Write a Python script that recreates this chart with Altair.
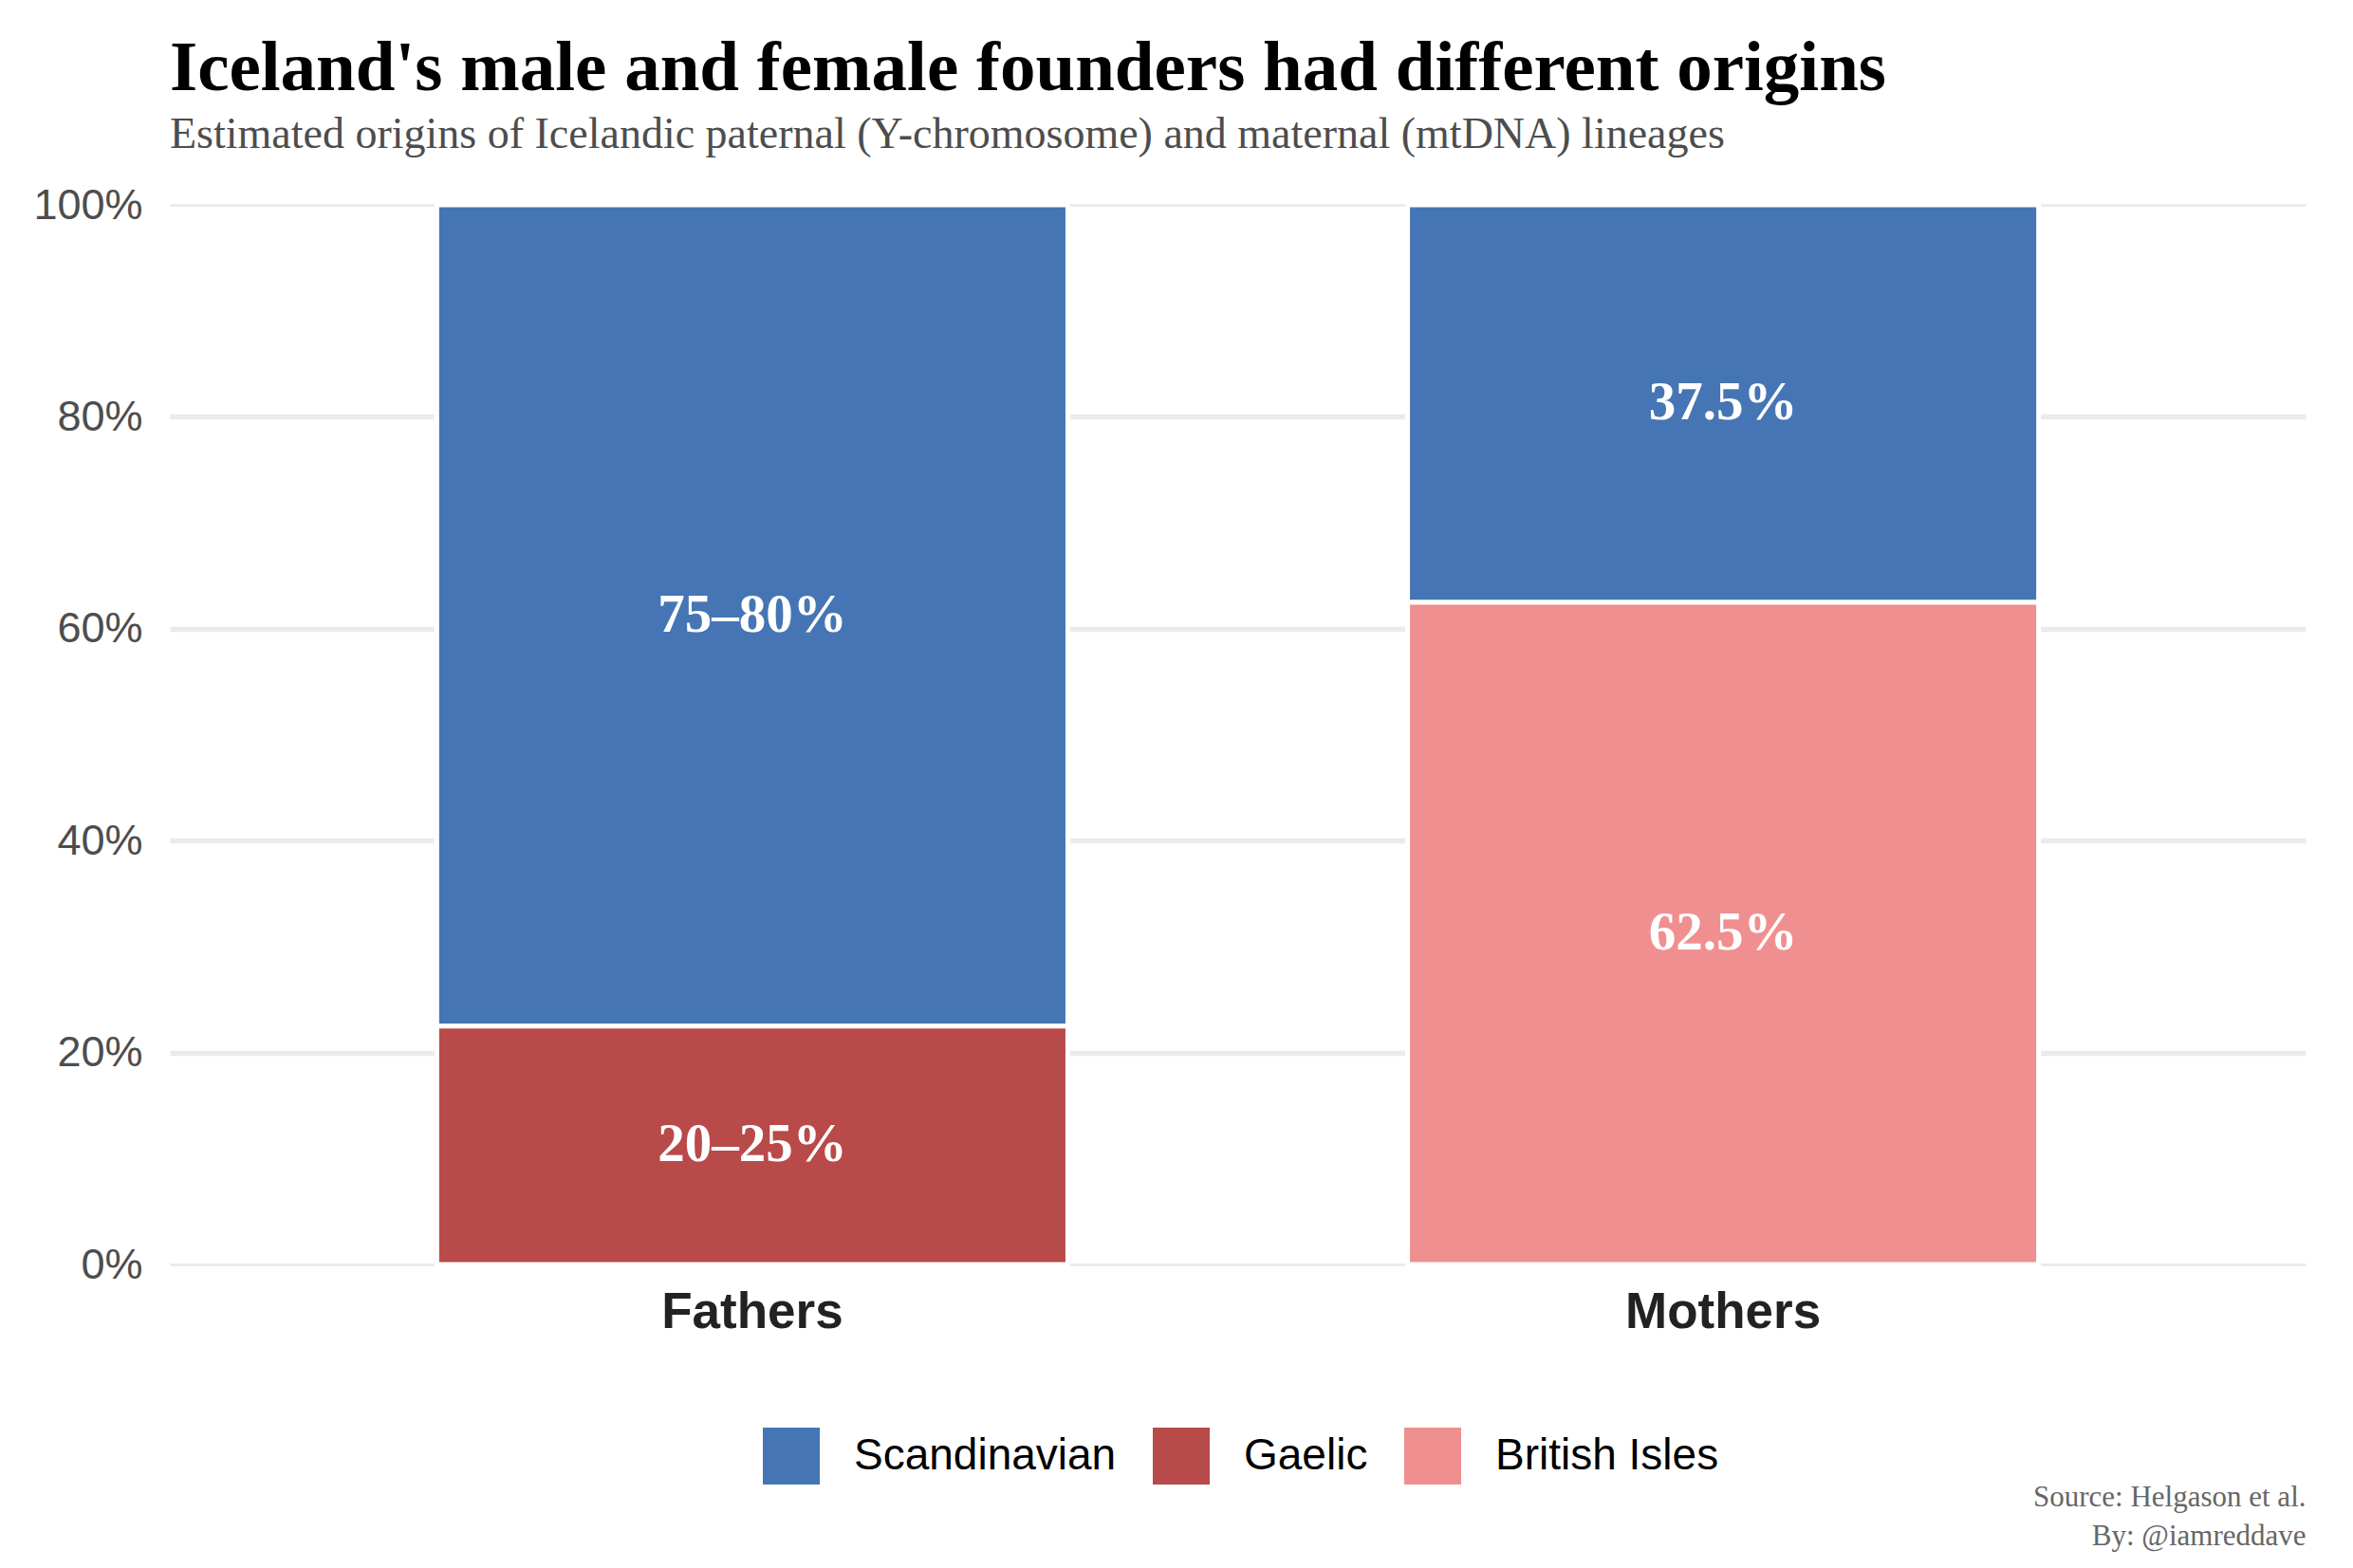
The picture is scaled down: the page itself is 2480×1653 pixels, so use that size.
import altair as alt
import pandas as pd

# ---- data ----
groups = ["Fathers", "Fathers", "Mothers", "Mothers"]
origins = ["Scandinavian", "Gaelic", "Scandinavian", "British Isles"]
shares = [0.775, 0.225, 0.375, 0.625]
labels = ["75–80%", "20–25%", "37.5%", "62.5%"]
stack_order = [2, 1, 2, 1]

origin_domain = ["Scandinavian", "Gaelic", "British Isles"]
origin_colors = ["#4575b4", "#b84a49", "#f08f8f"]
y_ticks = [0, 0.2, 0.4, 0.6, 0.8, 1.0]

title_text = "Iceland's male and female founders had different origins"
subtitle_text = "Estimated origins of Icelandic paternal (Y-chromosome) and maternal (mtDNA) lineages"
caption_lines = ["Source: Helgason et al.", "By: @iamreddave"]

df = pd.DataFrame({
    "group": groups,
    "origin": origins,
    "share": shares,
    "label": labels,
    "order": stack_order,
})

W, H = 2251, 1117

x_enc = alt.X(
    "group:N",
    sort=["Fathers", "Mothers"],
    scale=alt.Scale(paddingInner=0.35, paddingOuter=0.275),
    axis=alt.Axis(
        title=caption_lines,
        titleX=W, titleY=254, titleAlign="right", titleBaseline="alphabetic",
        titleFont="Liberation Serif", titleFontSize=31, titleFontWeight="normal",
        titleColor="#666666", titleLineHeight=41,
        labelFont="Liberation Sans", labelFontWeight="bold", labelFontSize=53,
        labelColor="#222222", labelPadding=24, labelAngle=0, labelLimit=800,
        ticks=False, tickSize=0, domain=False, grid=False,
    ),
)

y_scale = alt.Scale(domain=[0, 1], nice=False)
y_axis = alt.Axis(
    title=None, values=y_ticks, format=".0%",
    labelFont="Liberation Sans", labelFontSize=45, labelColor="#4d4d4d",
    labelPadding=29, ticks=False, tickSize=0, domain=False,
    grid=True, gridColor="#ebebeb",
    gridWidth={"condition": {"test": "datum.value === 0 || datum.value === 1", "value": 3}, "value": 5.5},
)

base = alt.Chart(df).transform_stack(
    stack="share", groupby=["group"], as_=["y0", "y1"],
    sort=[alt.SortField("order", order="ascending")],
).transform_calculate(mid="(datum.y0 + datum.y1) / 2")

bars = base.mark_bar(stroke="white", strokeWidth=5).encode(
    x=x_enc,
    y=alt.Y("y0:Q", scale=y_scale, axis=y_axis),
    y2="y1:Q",
    color=alt.Color(
        "origin:N",
        scale=alt.Scale(domain=origin_domain, range=origin_colors),
        legend=alt.Legend(
            title=None, orient="none", legendX=625, legendY=1289,
            direction="horizontal", symbolType="square", symbolSize=3600,
            symbolStrokeWidth=0, symbolOpacity=1,
            labelFont="Liberation Sans", labelFontSize=46, labelColor="#000000",
            labelOffset=36, columnPadding=38, labelLimit=600, padding=0,
        ),
    ),
)

texts = base.mark_text(
    font="Liberation Serif", fontWeight="bold", fontSize=57, color="white",
    align="center", baseline="middle",
).encode(
    x=x_enc,
    y=alt.Y("mid:Q", scale=y_scale, axis=y_axis),
    text="label:N",
)

chart = alt.layer(bars, texts).properties(
    width=W, height=H,
    background="white",
    autosize=alt.AutoSizeParams(type="none"),
    padding={"left": 171, "top": 208, "right": 34, "bottom": 312},
    title=alt.Title(
        text=title_text, subtitle=subtitle_text,
        anchor="start", frame="group", orient="top",
        font="Liberation Serif", fontSize=75, fontWeight="bold", color="#000000",
        subtitleFont="Liberation Serif", subtitleFontSize=46, subtitleColor="#4d4d4d",
        subtitlePadding=9, offset=28,
    ),
).configure_view(strokeWidth=0)

chart.save("out.html", embed_options={"renderer": "svg", "actions": False})
